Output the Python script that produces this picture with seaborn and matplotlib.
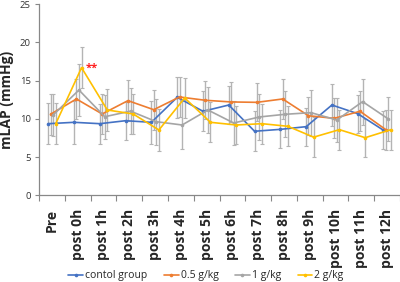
import matplotlib
matplotlib.use("Agg")
import matplotlib.pyplot as plt
import seaborn as sns
import numpy as np
import pandas as pd

categories = ["Pre", "post 0h", "post 1h", "post 2h", "post 3h", "post 4h", "post 5h",
              "post 6h", "post 7h", "post 8h", "post 9h", "post 10h", "post 11h", "post 12h"]
series_names = ["contol group", "0.5 g/kg", "1 g/kg", "2 g/kg"]

control = [9.36, 9.54, 9.36, 9.75, 9.54, 12.81, 10.98, 11.8, 8.37, 8.62, 8.97, 11.8, 10.67, 8.5]
dose05 = [10.59, 12.59, 10.63, 12.37, 11.19, 12.85, 12.42, 12.2, 12.15, 12.59, 10.4, 10.06, 10.98, 8.58]
dose1 = [10.5, 13.76, 10.27, 11.0, 9.62, 9.19, 11.15, 9.45, 10.24, 10.59, 10.8, 9.84, 12.24, 9.97]
dose2 = [9.36, 16.68, 11.15, 10.63, 8.54, 12.72, 9.54, 9.19, 9.36, 9.02, 7.6, 8.58, 7.53, 8.58]

err_control = [2.7, 2.8, 2.6, 2.5, 2.8, 2.7, 2.6, 2.5, 2.6, 2.5, 2.5, 2.8, 2.5, 2.5]
err_05 = [2.7, 2.6, 2.6, 2.7, 2.6, 2.6, 2.5, 2.6, 2.5, 2.6, 2.5, 2.6, 2.6, 2.6]
err_1 = [2.8, 3.4, 2.9, 3.0, 3.0, 3.2, 3.0, 2.9, 3.0, 3.0, 3.0, 2.9, 3.0, 2.9]
err_2 = [2.7, 2.7, 2.7, 2.6, 2.75, 2.6, 2.6, 2.5, 2.6, 2.6, 2.6, 2.6, 2.5, 2.6]

colors = ["#4472C4", "#ED7D31", "#A5A5A5", "#FFC000"]
offsets = [-0.14, -0.05, 0.05, 0.15]

sns.set_theme(style="white")
plt.rcParams['font.family'] = ['Open Sans', 'DejaVu Sans']

fig = plt.figure(figsize=(4.0, 2.82), dpi=100)
ax = fig.add_axes([0.0975, 0.3074, 0.9025, 0.6784])

vals = [control, dose05, dose1, dose2]
errs = [err_control, err_05, err_1, err_2]
idx = np.arange(len(categories))
for name, v, e, c, off in zip(series_names, vals, errs, colors, offsets):
    xpos = idx + off
    df = pd.DataFrame({"x": xpos, "y": v})
    ax.errorbar(xpos, v, yerr=e, fmt="none", ecolor="#B4B4B4", elinewidth=1.0,
                capsize=1.3, capthick=0.8, zorder=1)
    sns.lineplot(data=df, x="x", y="y", ax=ax, color=c, linewidth=1.2,
                 marker="o", markersize=2.6, markeredgewidth=0, label=name,
                 zorder=3, sort=False)

ax.text(1.55, 16.6, "**", color="#FF2020", fontsize=8, fontweight="bold",
        ha="center", va="center")

ax.set_xlim(-0.5, len(categories) - 0.5)
ax.set_ylim(0, 25)
ax.set_yticks([0, 5, 10, 15, 20, 25])
ax.tick_params(axis="y", labelsize=6.8, length=3, width=0.8, color="#888888",
               left=True, pad=3, labelcolor="#333333")
ax.set_xticks(idx)
ax.set_xticklabels(categories, rotation=90, fontsize=10, fontweight="bold")
ax.set_xticks(np.arange(-0.5, len(categories)), minor=True)
ax.tick_params(axis="x", which="major", length=0, pad=10)
ax.tick_params(axis="x", which="minor", length=4, width=0.8, color="#888888",
               bottom=True, direction="out")
ax.set_xlabel("")
ax.set_ylabel("mLAP (mmHg)", fontsize=10, fontweight="bold", labelpad=4)
for s in ["top", "right"]:
    ax.spines[s].set_visible(False)
for s in ["left", "bottom"]:
    ax.spines[s].set_color("#888888")
    ax.spines[s].set_linewidth(0.9)

ax.get_legend().remove()
handles, labels = ax.get_legend_handles_labels()
fig.legend(handles, labels, loc="center", bbox_to_anchor=(0.515, 0.022), ncol=4,
           frameon=False, fontsize=7.5, handlelength=1.4, handletextpad=0.2,
           columnspacing=1.6, borderaxespad=0)

fig.savefig("out.png", dpi=100)
